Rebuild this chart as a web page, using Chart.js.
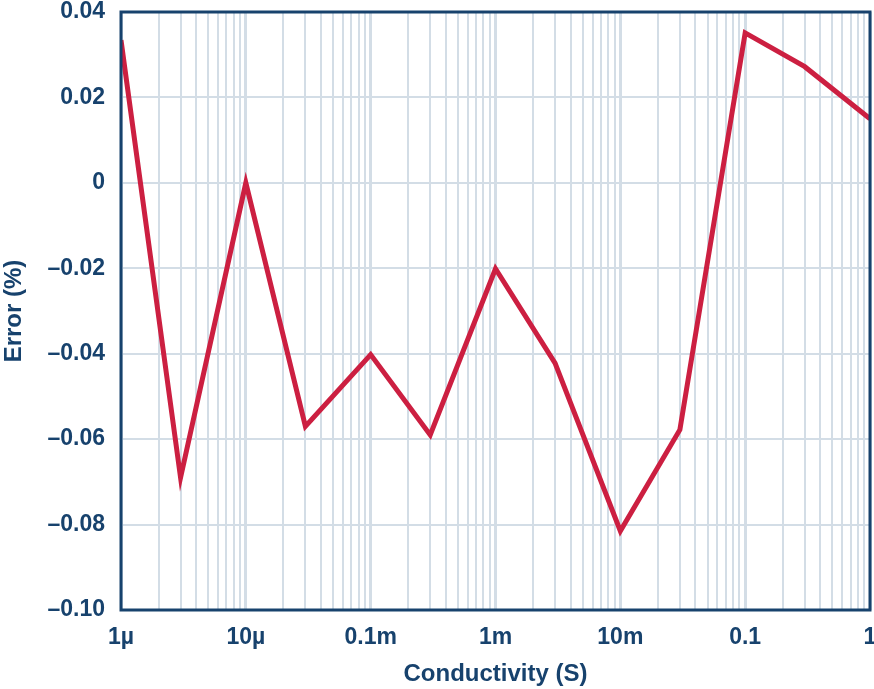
<!DOCTYPE html>
<html>
<head>
<meta charset="utf-8">
<script src="https://cdn.jsdelivr.net/npm/chart.js@4/dist/chart.umd.min.js"></script>
<style>
  body { margin: 0; background: #fff; }
  #wrap { width: 874px; height: 689px; position: relative; }
</style>
</head>
<body>
<div id="wrap"><canvas id="errorChart"></canvas></div>
<script>
// Conductivity (S) and measured error (%)
var conductivity = [1e-6, 3e-6, 1e-5, 3e-5, 1e-4, 3e-4, 1e-3, 3e-3, 1e-2, 3e-2, 1e-1, 3e-1, 1];
var errorPct = [0.0334, -0.0690, 0.0000, -0.0570, -0.0402, -0.0590, -0.0201, -0.0422, -0.0815, -0.0578, 0.0351, 0.0272, 0.0150];

var xTickValues = [1e-6, 1e-5, 1e-4, 1e-3, 1e-2, 1e-1, 1];
var xTickLabels = ["1µ", "10µ", "0.1m", "1m", "10m", "0.1", "1"];
var yTickValues = [0.04, 0.02, 0, -0.02, -0.04, -0.06, -0.08, -0.10];
var yTickLabels = ["0.04", "0.02", "0", "–0.02", "–0.04", "–0.06", "–0.08", "–0.10"];

var navy = "#17426d";
var gridColor = "#d3dde6";
var lineColor = "#cc1f41";
var fontFamily = "'Liberation Sans', Arial, Helvetica, sans-serif";

// grid positions: each decade plus 2..9 inside it
var xGrid = [];
xTickValues.forEach(function (d, i) {
    xGrid.push({ value: d, major: true });
    if (i < xTickValues.length - 1) {
        for (var m = 2; m <= 9; m++) xGrid.push({ value: d * m, major: false });
    }
});

function labelFor(values, labels, v) {
    for (var i = 0; i < values.length; i++) {
        if (Math.abs(values[i] - v) <= Math.abs(values[i]) * 1e-6 + 1e-9) return labels[i];
    }
    return "";
}

var framePlugin = {
    id: "frame",
    afterDatasetsDraw: function (chart) {
        var a = chart.chartArea, ctx = chart.ctx;
        ctx.save();
        ctx.strokeStyle = navy;
        ctx.lineWidth = 3;
        ctx.strokeRect(a.left, a.top, a.right - a.left, a.bottom - a.top);
        ctx.restore();
    }
};

new Chart("errorChart", {
    type: "line",
    data: {
        datasets: [{
            data: conductivity.map(function (c, i) { return { x: c, y: errorPct[i] }; }),
            borderColor: lineColor,
            borderWidth: 5,
            pointRadius: 0,
            tension: 0,
            fill: false
        }]
    },
    options: {
        responsive: true,
        maintainAspectRatio: false,
        animation: false,
        layout: { padding: { top: 12, right: 4, left: 0, bottom: 0 } },
        plugins: {
            legend: { display: false },
            tooltip: { enabled: false }
        },
        scales: {
            x: {
                type: "logarithmic",
                min: 1e-6,
                max: 1,
                afterBuildTicks: function (scale) {
                    scale.ticks = xGrid.map(function (t) { return { value: t.value, major: t.major }; });
                },
                afterFit: function (scale) {
                    scale.height = 79;
                    scale.paddingLeft = 0;
                    scale.paddingRight = 0;
                },
                border: { display: false },
                grid: {
                    color: gridColor,
                    lineWidth: function (ctx) { return ctx.tick && ctx.tick.major ? 3 : 2; },
                    drawTicks: false
                },
                ticks: {
                    autoSkip: false,
                    maxRotation: 0,
                    padding: 14,
                    color: navy,
                    font: { family: fontFamily, size: 23, weight: "bold" },
                    callback: function (value) { return labelFor(xTickValues, xTickLabels, value); }
                },
                title: {
                    display: true,
                    text: "Conductivity (S)",
                    color: navy,
                    font: { family: fontFamily, size: 24, weight: "bold" },
                    padding: { top: 0, bottom: 0 }
                }
            },
            y: {
                min: -0.10,
                max: 0.04,
                afterBuildTicks: function (scale) {
                    scale.ticks = yTickValues.map(function (v) { return { value: v }; });
                },
                afterFit: function (scale) {
                    scale.width = 121;
                    scale.paddingTop = 0;
                    scale.paddingBottom = 0;
                },
                border: { display: false },
                grid: {
                    color: gridColor,
                    lineWidth: 2,
                    drawTicks: false
                },
                ticks: {
                    padding: 16,
                    color: navy,
                    font: { family: fontFamily, size: 23, weight: "bold" },
                    callback: function (value) { return labelFor(yTickValues, yTickLabels, value); }
                },
                title: {
                    display: true,
                    text: "Error (%)",
                    color: navy,
                    font: { family: fontFamily, size: 24, weight: "bold" },
                    padding: { top: 0, bottom: 0 }
                }
            }
        }
    },
    plugins: [framePlugin]
});
</script>
</body>
</html>
